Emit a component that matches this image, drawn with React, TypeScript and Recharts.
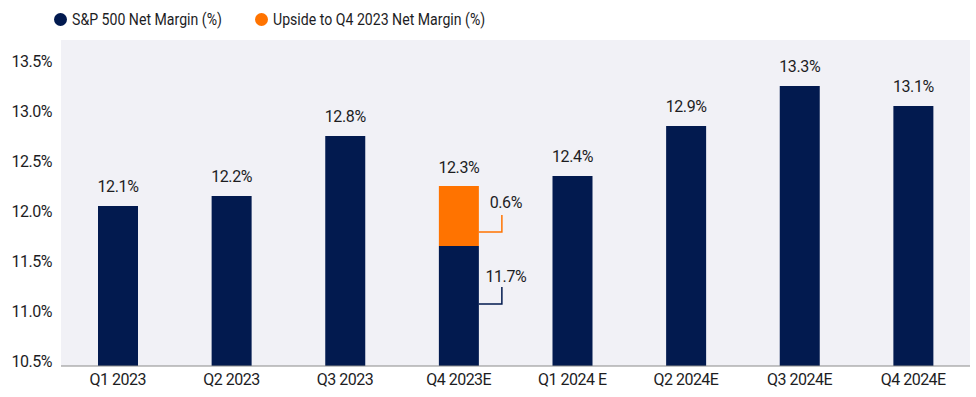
import React from "react";
import { BarChart, Bar, XAxis, YAxis, CartesianGrid, LabelList } from "recharts";

const quarters = ["Q1 2023", "Q2 2023", "Q3 2023", "Q4 2023E", "Q1 2024 E", "Q2 2024E", "Q3 2024E", "Q4 2024E"];
const netMargin = [12.1, 12.2, 12.8, 11.7, 12.4, 12.9, 13.3, 13.1];
const upside = [null, null, null, 0.6, null, null, null, null];
const yTicks = [10.5, 11.0, 11.5, 12.0, 12.5, 13.0, 13.5];

const NAVY = "#021A4F";
const ORANGE = "#FF7300";
const TEXT = "#1d1d1f";
const FONT = "Roboto, 'Noto Sans', sans-serif";

const data = quarters.map((q, i) => ({
  q,
  base: netMargin[i],
  upside: upside[i],
  total: netMargin[i] + (upside[i] ?? 0),
}));

const fmt = (v: number) => v.toFixed(1) + "%";

// navy bars: value on top, or a bracket callout where the bar is stacked
const BaseLabel = (props: any) => {
  const { x, y, width, value } = props;
  const row = data.find((d) => d.base === value && (d.upside ?? 0) > 0);
  if (row) {
    const xr = x + width;
    return (
      <g>
        <path d={`M${xr},${y + 58} H${xr + 23} V${y + 41}`} stroke={NAVY} strokeWidth={1.5} fill="none" />
        <text x={xr + 27} y={y + 30} textAnchor="middle" dominantBaseline="central" fill={TEXT} fontSize={16} fontFamily={FONT} letterSpacing={-0.4}>
          {fmt(value)}
        </text>
      </g>
    );
  }
  return (
    <text x={x + width / 2} y={y - 20} textAnchor="middle" dominantBaseline="central" fill={TEXT} fontSize={16} fontFamily={FONT} letterSpacing={-0.4}>
      {fmt(value)}
    </text>
  );
};

const UpsideLabel = (props: any) => {
  const { x, y, width, value } = props;
  if (value == null || !(value > 0)) return null;
  const row = data.find((d) => d.upside === value);
  if (!row) return null;
  const xr = x + width;
  return (
    <g>
      <text x={x + width / 2} y={y - 19} textAnchor="middle" dominantBaseline="central" fill={TEXT} fontSize={16} fontFamily={FONT} letterSpacing={-0.4}>
        {fmt(row.total)}
      </text>
      <path d={`M${xr},${y + 46} H${xr + 23} V${y + 29}`} stroke={ORANGE} strokeWidth={1.5} fill="none" />
      <text x={xr + 27} y={y + 16} textAnchor="middle" dominantBaseline="central" fill={TEXT} fontSize={16} fontFamily={FONT} letterSpacing={-0.4}>
        {fmt(value)}
      </text>
    </g>
  );
};

const YTick = (props: any) => {
  const { x, y, payload } = props;
  return (
    <text x={x} y={y - 4.5} textAnchor="end" dominantBaseline="central" fill={TEXT} fontSize={16} fontFamily={FONT} letterSpacing={-0.5}>
      {fmt(payload.value)}
    </text>
  );
};

const legendItems = [
  { label: "S&P 500 Net Margin (%)", color: NAVY, left: 54 },
  { label: "Upside to Q4 2023 Net Margin (%)", color: ORANGE, left: 255 },
];

export default function App() {
  return (
    <div style={{ position: "absolute", top: 0, left: 0, width: 976, height: 397, background: "#fff", fontFamily: FONT }}>
      {legendItems.map((it) => (
        <div key={it.label} style={{ position: "absolute", top: 9, left: it.left, display: "flex", alignItems: "center", fontSize: 17, color: TEXT, whiteSpace: "nowrap" }}>
          <span style={{ width: 13, height: 13, borderRadius: "50%", background: it.color, display: "inline-block", marginRight: 5 }} />
          <span style={{ display: "inline-block", transform: "scaleX(0.83)", transformOrigin: "left center" }}>{it.label}</span>
        </div>
      ))}
      <BarChart width={976} height={397} data={data} margin={{ top: 40, right: 6, left: 0, bottom: 0 }}>
        <CartesianGrid fill="#F1F1F6" horizontal={false} vertical={false} />
        <XAxis
          dataKey="q"
          height={31}
          tickLine={false}
          axisLine={{ stroke: "#8a8a8a", strokeWidth: 1 }}
          tick={{ fill: TEXT, fontSize: 16, fontFamily: FONT, letterSpacing: -0.5 }}
          interval={0}
        />
        <YAxis
          width={61}
          domain={[10.5, 13.76]}
          ticks={yTicks}
          allowDataOverflow
          axisLine={false}
          tickLine={false}
          tickMargin={3}
          tick={<YTick />}
        />
        <Bar dataKey="base" stackId="a" fill={NAVY} barSize={40} isAnimationActive={false}>
          <LabelList dataKey="base" content={<BaseLabel />} />
        </Bar>
        <Bar dataKey="upside" stackId="a" fill={ORANGE} barSize={40} isAnimationActive={false}>
          <LabelList dataKey="upside" content={<UpsideLabel />} />
        </Bar>
      </BarChart>
    </div>
  );
}
